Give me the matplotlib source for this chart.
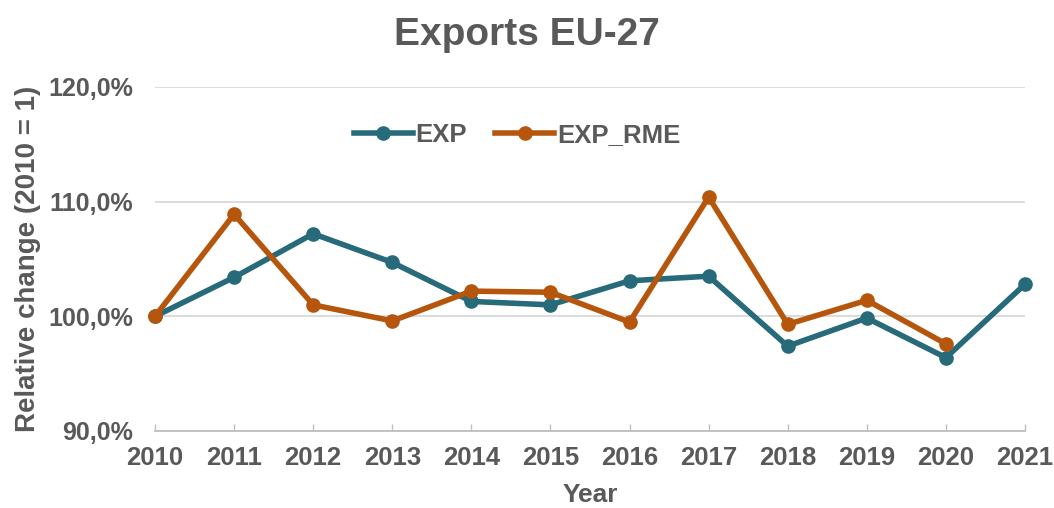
import matplotlib
matplotlib.use("Agg")
import matplotlib.pyplot as plt
from matplotlib.ticker import FuncFormatter, FixedLocator

years = [2010, 2011, 2012, 2013, 2014, 2015, 2016, 2017, 2018, 2019, 2020, 2021]
exp_vals = [100.0, 103.4, 107.2, 104.7, 101.3, 101.0, 103.1, 103.5, 97.4, 99.85, 96.4, 102.8]
rme_years = [2010, 2011, 2012, 2013, 2014, 2015, 2016, 2017, 2018, 2019, 2020]
rme_vals = [100.0, 108.9, 101.0, 99.6, 102.2, 102.1, 99.5, 110.4, 99.3, 101.4, 97.6]
yticks = [90, 100, 110, 120]

txt = "#595959"
c_exp = "#276A7A"
c_rme = "#B5560C"
plt.rcParams['font.family'] = ['Liberation Sans', 'DejaVu Sans']
plt.rcParams['font.weight'] = 'bold'

fig = plt.figure(figsize=(10.54, 5.08), dpi=100)
ax = fig.add_axes([155/1054, 1-431/508, (1025-155)/1054, (431-87)/508])

ax.plot(years, exp_vals, color=c_exp, lw=4.0, marker='o', ms=9.5, label='EXP',
        solid_joinstyle='round', zorder=3, clip_on=False)
ax.plot(rme_years, rme_vals, color=c_rme, lw=4.0, marker='o', ms=9.5, label='EXP_RME',
        solid_joinstyle='round', zorder=4, clip_on=False)

ax.set_xlim(2010, 2021)
ax.set_ylim(90, 120)
ax.xaxis.set_major_locator(FixedLocator(years))
ax.yaxis.set_major_locator(FixedLocator(yticks))
ax.yaxis.set_major_formatter(FuncFormatter(lambda v, p: f"{v:.1f}".replace('.', ',') + '%'))
ax.grid(axis='y', color='#D9D9D9', lw=1.3)
ax.set_axisbelow(True)
for s in ['top', 'right', 'left']:
    ax.spines[s].set_visible(False)
ax.spines['bottom'].set_color('#BFBFBF')
ax.spines['bottom'].set_linewidth(1.3)
ax.tick_params(axis='x', direction='in', length=5, width=1.0, color='#BFBFBF', pad=11,
               labelsize=18.5, labelcolor=txt)
ax.tick_params(axis='y', length=0, pad=16, labelsize=18, labelcolor=txt)
for lab in ax.get_xticklabels() + ax.get_yticklabels():
    lab.set_fontweight('bold')

ax.set_xlabel('Year', fontsize=19, fontweight='bold', color=txt, labelpad=9.5)
ax.set_ylabel('Relative change (2010 = 1)', fontsize=20, fontweight='bold', color=txt)
ax.yaxis.set_label_coords((41-155)/(1025-155), 0.5)

fig.text(527/1054, 1-35/508, 'Exports EU-27', ha='center', va='center', fontsize=28,
         fontweight='bold', color=txt)

leg = fig.legend(loc='center', bbox_to_anchor=(517/1054, 1-135/508), ncol=2, frameon=False,
                 fontsize=18.5, handlelength=2.3, handletextpad=0.1, columnspacing=1.1)
for t in leg.get_texts():
    t.set_color(txt)
    t.set_fontweight('bold')

fig.savefig('out.png', dpi=100)
